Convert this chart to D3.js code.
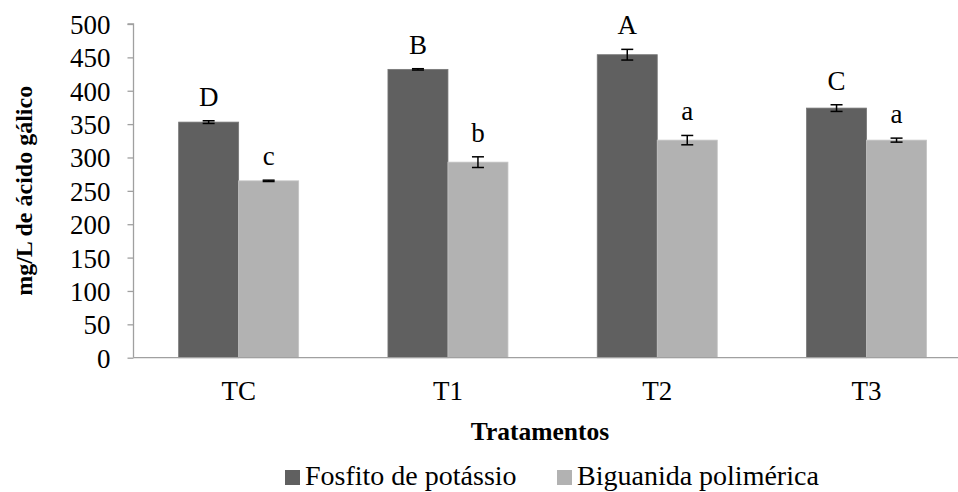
<!DOCTYPE html>
<html>
<head>
<meta charset="utf-8">
<script src="https://cdn.jsdelivr.net/npm/d3@7"></script>
<style>
  html, body { margin: 0; padding: 0; background: #fff; }
  svg { display: block; }
</style>
</head>
<body>
<svg id="chart" width="958" height="492"></svg>
<script>
// ---- Data ----
const categories = ["TC", "T1", "T2", "T3"];
const seriesNames = ["Fosfito de potássio", "Biguanida polimérica"];
const fosfitoValues = [353, 432, 454, 374];
const fosfitoErrors = [2, 1, 8, 5];
const fosfitoLetters = ["D", "B", "A", "C"];
const biguanidaValues = [265, 293, 326, 326];
const biguanidaErrors = [1, 8, 7, 3];
const biguanidaLetters = ["c", "b", "a", "a"];
const yTicks = [0, 50, 100, 150, 200, 250, 300, 350, 400, 450, 500];
const yLabel = "mg/L de ácido gálico";
const xLabel = "Tratamentos";
const colors = ["#606060", "#b2b2b2"];

const FONT = "'Liberation Serif', 'Times New Roman', Times, serif";

// ---- Layout ----
const svg = d3.select("#chart");
const W = 958, H = 492;
const plot = { left: 134, top: 24, bottom: 357.7, right: 971.2 };

const y = d3.scaleLinear().domain([0, 500]).range([plot.bottom, plot.top]);
const p = 1 - 120 / ((plot.right - plot.left) / categories.length);
const x0 = d3.scaleBand().domain(categories).range([plot.left, plot.right])
  .paddingInner(p).paddingOuter(p / 2);
const x1 = d3.scaleBand().domain(seriesNames).range([0, x0.bandwidth()]);

const rows = categories.map((c, i) => ({
  cat: c,
  items: [
    { s: seriesNames[0], v: fosfitoValues[i], e: fosfitoErrors[i], l: fosfitoLetters[i], col: colors[0] },
    { s: seriesNames[1], v: biguanidaValues[i], e: biguanidaErrors[i], l: biguanidaLetters[i], col: colors[1] }
  ]
}));

// Bars
const g = svg.append("g");
const groups = g.selectAll("g.cat").data(rows).join("g")
  .attr("class", "cat")
  .attr("transform", d => `translate(${x0(d.cat)},0)`);

groups.selectAll("rect").data(d => d.items).join("rect")
  .attr("x", d => x1(d.s))
  .attr("y", d => y(d.v))
  .attr("width", x1.bandwidth())
  .attr("height", d => y(0) - y(d.v))
  .attr("fill", d => d.col)
  .attr("stroke", (d, i) => i === 0 ? "#777" : "#c4c4c4")
  .attr("stroke-width", 0.8);

// Error bars
const cap = 6;
const eb = groups.selectAll("g.err").data(d => d.items).join("g").attr("class", "err")
  .attr("stroke", "#000").attr("stroke-width", 1.5);
eb.append("line")
  .attr("x1", d => x1(d.s) + x1.bandwidth() / 2)
  .attr("x2", d => x1(d.s) + x1.bandwidth() / 2)
  .attr("y1", d => y(d.v + d.e)).attr("y2", d => y(d.v - d.e));
eb.append("line")
  .attr("x1", d => x1(d.s) + x1.bandwidth() / 2 - cap)
  .attr("x2", d => x1(d.s) + x1.bandwidth() / 2 + cap)
  .attr("y1", d => y(d.v + d.e)).attr("y2", d => y(d.v + d.e));
eb.append("line")
  .attr("x1", d => x1(d.s) + x1.bandwidth() / 2 - cap)
  .attr("x2", d => x1(d.s) + x1.bandwidth() / 2 + cap)
  .attr("y1", d => y(d.v - d.e)).attr("y2", d => y(d.v - d.e));

// Letters
groups.selectAll("text.letter").data(d => d.items).join("text")
  .attr("class", "letter")
  .attr("x", d => x1(d.s) + x1.bandwidth() / 2)
  .attr("y", d => y(d.v + d.e) - 15)
  .attr("text-anchor", "middle")
  .style("font-family", FONT)
  .style("font-size", "27px")
  .text(d => d.l);

// Y axis
const yAxis = d3.axisLeft(y).tickValues(yTicks).tickSize(6).tickPadding(17);
const ya = svg.append("g").attr("transform", `translate(${plot.left - 0.5},0)`).call(yAxis);
ya.attr("font-family", null).attr("font-size", null);
ya.selectAll("text").style("font-family", FONT).style("font-size", "27px").attr("fill", "#000").attr("dy", "0.35em");
ya.selectAll("line").attr("stroke", "#a0a0a0").attr("stroke-width", 1.3);
ya.select(".domain").attr("stroke", "#a0a0a0").attr("stroke-width", 1.3).attr("d", `M-6,${plot.top}H0V${plot.bottom}`);

// X axis
const xAxis = d3.axisBottom(x0).tickSize(0).tickPadding(23);
const xa = svg.append("g").attr("transform", `translate(0,${plot.bottom})`).call(xAxis);
xa.attr("font-family", null).attr("font-size", null);
xa.select(".domain").attr("stroke", "#a0a0a0").attr("stroke-width", 1.3)
  .attr("d", `M${plot.left - 0.5},0H${W}`);
xa.selectAll("text").style("font-family", FONT).style("font-size", "27px").attr("fill", "#000");

// Axis titles
svg.append("text")
  .attr("transform", `translate(32,${(plot.top + plot.bottom) / 2}) rotate(-90)`)
  .attr("text-anchor", "middle")
  .style("font-family", FONT).style("font-size", "24px").style("font-weight", "bold")
  .text(yLabel);
svg.append("text")
  .attr("x", 540).attr("y", 440)
  .attr("text-anchor", "middle")
  .style("font-family", FONT).style("font-size", "25.5px").style("font-weight", "bold")
  .text(xLabel);

// Legend
const legendX = [285, 557];
const lg = svg.selectAll("g.legend").data(seriesNames).join("g")
  .attr("class", "legend")
  .attr("transform", (d, i) => `translate(${legendX[i]},470)`);
lg.append("rect").attr("width", 15).attr("height", 15).attr("fill", (d, i) => colors[i]);
lg.append("text").attr("x", 20).attr("y", 15)
  .style("font-family", FONT).style("font-size", "28px")
  .text(d => d);
</script>
</body>
</html>
